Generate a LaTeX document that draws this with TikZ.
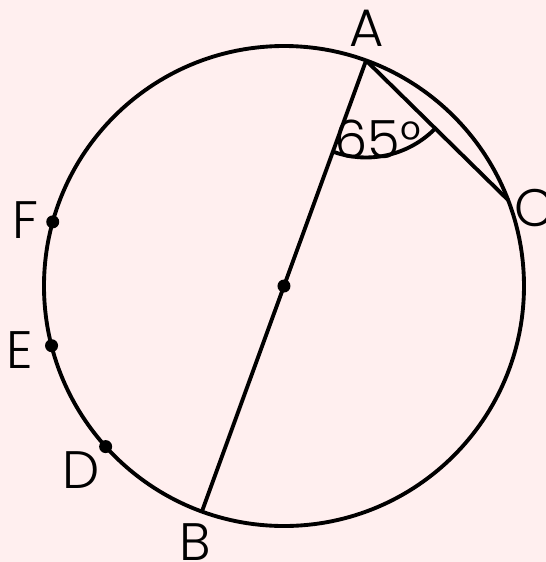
\documentclass[tikz,border=0pt]{standalone}
\usepackage{fontspec}
\setmainfont{Poppins}[UprightFont=* Light]
\usepackage{tikz}
\usetikzlibrary{calc,angles}
\definecolor{bgpink}{RGB}{255,239,239}

\begin{document}
\begin{tikzpicture}[font=\fontsize{15}{18}\selectfont,line width=1.1pt]
    \fill[bgpink] (-2.84,-2.76) rectangle (2.62,2.86);
    \useasboundingbox (-2.84,-2.76) rectangle (2.62,2.86);

    \coordinate (O) at (0,0);
    \coordinate (A) at (70:2.4);
    \coordinate (B) at (250:2.4);
    \coordinate (C) at (21:2.4);
    \coordinate (F) at (164.5:2.4);
    \coordinate (E) at (194.4:2.4);
    \coordinate (D) at (222:2.4);

    \draw (O) circle[radius=2.4];
    \draw (A) -- (B);
    \draw (A) -- (C);
    \pic[draw,angle radius=0.97cm] {angle=B--A--C};

    \foreach \p in {O,F,E,D}
      \fill (\p) circle[radius=.065];

    \node (labA) at (0.83,2.58) {A};
    \node (labB) at (-0.89,-2.56) {B};
    \node (labC) at (2.51,0.78) {C};
    \node (labD) at (-2.03,-1.84) {D};
    \node (labE) at (-2.64,-0.64) {E};
    \node (labF) at (-2.58,0.66) {F};
    \node (ang) at (0.94,1.47) {65°};
  \end{tikzpicture}
\end{document}
